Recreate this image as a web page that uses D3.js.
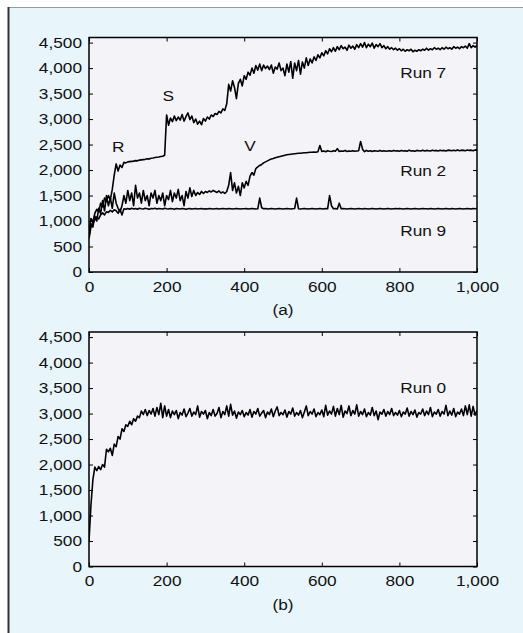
<!DOCTYPE html>
<html>
<head>
<meta charset="utf-8">
<script src="https://cdn.jsdelivr.net/npm/d3@7"></script>
<style>
  body { margin: 0; background: #fff; }
  text { font-family: "Liberation Sans", Arial, sans-serif; fill: #111; }
</style>
</head>
<body>
<div id="chart"></div>
<script>
// samples every 5 iterations, 0..1000
const xStep = 5;

const run7 = [
  780, 1050, 980, 1150, 1230, 1180, 1350, 1280, 1450, 1380, 1500, 1420,
  1620, 1900, 2120, 1980, 2100, 2050, 2150, 2140, 2160, 2165, 2170, 2175, 2185, 2180, 2195, 2200, 2205, 2210,
  2220, 2215, 2230, 2235, 2245, 2250, 2255, 2265, 2270, 2290,
  3080, 2880, 3020, 2950, 3060, 2970, 3040, 2980, 3090, 2960, 3050, 3120, 2990, 3060, 2930, 3000, 2900, 2960, 2890, 3010,
  2960, 3040, 3000, 3080, 3050, 3110, 3090, 3150, 3120, 3200, 3170, 3300, 3680, 3550, 3750, 3620, 3400, 3700, 3780, 3650,
  3850, 3780, 3920, 3860, 4000, 3900, 4050, 3960, 4080, 3950, 4060, 3990, 4040, 3970, 4060, 3900, 4020, 3980, 4100, 3950,
  4000, 3850, 4080, 3920, 4130, 3800, 4100, 3950, 4150, 3880, 4120, 4000, 4200, 4050, 4180, 4100, 4220, 4150, 4260, 4200,
  4300, 4240, 4340, 4280, 4380, 4320, 4400, 4330, 4420, 4360, 4440, 4380, 4410, 4350, 4450, 4390, 4430, 4370, 4460, 4400,
  4480, 4410, 4500, 4400, 4470, 4420, 4490, 4390, 4460, 4420, 4480, 4400, 4440, 4380, 4420, 4370, 4400, 4360, 4390, 4350,
  4380, 4340, 4370, 4330, 4360, 4340, 4370, 4320, 4350, 4330, 4360, 4340, 4370, 4350, 4390, 4350, 4380, 4360, 4400, 4370,
  4390, 4360, 4400, 4370, 4410, 4380, 4400, 4370, 4420, 4390, 4410, 4380, 4420, 4400, 4430, 4390, 4480, 4400, 4440, 4410,
  4450
];

const run2 = [
  700, 950, 880, 1100, 1000, 1250, 1150, 1400, 1200, 1500, 1300, 1450,
  1250, 1550, 1350, 1250, 1180, 1300, 1500, 1350, 1600, 1400, 1550, 1300, 1700, 1450, 1550, 1350, 1600, 1400,
  1500, 1300, 1550, 1450, 1600, 1350, 1500, 1400, 1550, 1300,
  1500, 1420, 1600, 1380, 1550, 1450, 1620, 1400, 1500, 1300, 1580, 1450, 1650, 1480, 1600, 1500, 1560, 1520, 1580, 1540,
  1580, 1560, 1590, 1570, 1600, 1580, 1560, 1590, 1550, 1570, 1540, 1580, 1700, 1950, 1600, 1750, 1550, 1680, 1500, 1750,
  1650, 1780, 1700, 1880, 1950, 1900, 2030, 2060, 2090, 2110, 2140, 2160, 2180, 2200, 2215, 2225, 2240, 2250, 2260, 2270,
  2280, 2290, 2300, 2305, 2310, 2315, 2320, 2325, 2330, 2330, 2335, 2340, 2340, 2345, 2350, 2350, 2355, 2350, 2360, 2480,
  2365, 2375, 2360, 2380, 2370, 2365, 2380, 2370, 2420, 2365, 2375, 2370, 2385, 2365, 2375, 2370, 2380, 2370, 2375, 2380,
  2560, 2410, 2360, 2385, 2370, 2380, 2365, 2380, 2375, 2370, 2385, 2370, 2380, 2370, 2375, 2380, 2370, 2385, 2375, 2380,
  2370, 2385, 2375, 2380, 2370, 2390, 2375, 2380, 2370, 2385, 2380, 2375, 2390, 2375, 2385, 2380, 2375, 2390, 2380, 2385,
  2375, 2390, 2380, 2385, 2375, 2390, 2385, 2380, 2390, 2380, 2395, 2380, 2390, 2385, 2380, 2395, 2385, 2390, 2380, 2395,
  2390
];

const run9 = [
  650, 880, 960, 1020, 1080, 1040, 1120, 1160, 1120, 1180, 1170, 1210, 1180, 1220, 1200, 1150, 1230, 1120, 1240, 1230,
  1245, 1230, 1250, 1235, 1245, 1230, 1250, 1240, 1235, 1250, 1240, 1230, 1245, 1240, 1250, 1235, 1245, 1240, 1235, 1250,
  1240, 1235, 1245, 1240, 1230, 1245, 1240, 1235, 1245, 1240, 1230, 1240, 1245, 1235, 1240, 1245, 1235, 1240, 1245, 1235,
  1240, 1235, 1245, 1240, 1235, 1240, 1245, 1235, 1240, 1245, 1240, 1235, 1245, 1240, 1235, 1240, 1245, 1240, 1235, 1240,
  1240, 1245, 1235, 1240, 1245, 1240, 1235, 1240, 1450, 1260, 1240, 1245, 1235, 1240, 1245, 1240, 1235, 1240, 1245, 1240,
  1235, 1240, 1245, 1240, 1235, 1240, 1245, 1450, 1240, 1235, 1240, 1245, 1240, 1235, 1240, 1245, 1240, 1235, 1240, 1245,
  1240, 1235, 1245, 1240, 1500, 1300, 1240, 1245, 1235, 1350, 1240, 1245, 1240, 1235, 1240, 1245, 1240, 1235, 1240, 1245,
  1240, 1235, 1245, 1240, 1235, 1240, 1245, 1240, 1235, 1240, 1245, 1240, 1235, 1240, 1245, 1240, 1235, 1240, 1245, 1240,
  1245, 1240, 1235, 1240, 1245, 1240, 1235, 1240, 1245, 1240, 1235, 1240, 1245, 1240, 1240, 1235, 1245, 1240, 1235, 1240,
  1245, 1240, 1235, 1240, 1245, 1240, 1235, 1245, 1240, 1235, 1240, 1245, 1240, 1235, 1240, 1245, 1240, 1235, 1245, 1240,
  1245
];

const run0 = [
  500, 1200, 1700, 1950, 1880, 1960, 1900, 2000, 1950, 2300, 2250, 2320, 2180, 2400, 2350, 2550, 2500, 2700, 2650, 2780,
  2750, 2850, 2780, 2900, 2850, 2950, 2920, 3050, 2980, 3080, 2960, 3060, 2990, 3100, 2950, 3120, 2980, 3200, 2920, 3150,
  2950, 3080, 2920, 3050, 2980, 3060, 2900, 3020, 2970, 3090, 2940, 3010, 3100, 2950, 3030, 2980, 3150, 2930, 3040, 2990,
  3060, 2900, 3020, 2960, 3080, 2950, 3000, 3120, 2920, 3040, 2980, 3150, 2950, 3180, 2970, 3050, 2910, 3030, 2980, 3060,
  2940, 3020, 2970, 3080, 2930, 3040, 2990, 3100, 2950, 3010, 3060, 2920, 3030, 2980, 3090, 2940, 3050, 3130, 2960, 3020,
  2980, 3070, 2930, 3040, 2990, 3110, 2950, 3020, 2970, 3060, 2920, 3030, 3150, 2960, 3040, 2990, 3090, 2940, 3020, 2980,
  3070, 2940, 3160, 2970, 3050, 2990, 3140, 2950, 3100, 2980, 3160, 2930, 3050, 3000, 3150, 2960, 3060, 2990, 3170, 2950,
  3040, 2980, 3090, 2940, 3020, 2970, 3120, 2960, 3050, 2880, 3030, 2990, 3080, 2950, 3040, 2980, 3100, 2960, 3020, 2970,
  3060, 2940, 3030, 2990, 3110, 2950, 3040, 2980, 3070, 2930, 3020, 2990, 3090, 2960, 3050, 2980, 3120, 2940, 3030, 2990,
  3080, 2950, 3040, 2990, 3160, 2960, 3050, 2970, 3100, 2940, 3030, 2990, 3090, 2960, 3150, 2980, 3170, 2950, 3140, 2970,
  3060
];

const yTicks = [0, 500, 1000, 1500, 2000, 2500, 3000, 3500, 4000, 4500];
const xTicks = [0, 200, 400, 600, 800, 1000];

const W = 523, H = 633;
const stretch = 1.15; // source lettering is a little wide
const fmt = d3.format(',');

const svg = d3.select('#chart')
  .append('svg')
  .attr('width', W)
  .attr('height', H);

// outer figure box
svg.append('rect')
  .attr('x', 8).attr('y', 7)
  .attr('width', W).attr('height', H)
  .attr('fill', '#e8f5fb');
svg.append('line')
  .attr('x1', 8).attr('x2', W).attr('y1', 7.5).attr('y2', 7.5)
  .attr('stroke', '#9a9a9a').attr('stroke-width', 1);
svg.append('line')
  .attr('x1', 8.5).attr('x2', 8.5).attr('y1', 7).attr('y2', H)
  .attr('stroke', '#333').attr('stroke-width', 2);

const x = d3.scaleLinear().domain([0, 1000]).range([89, 477]);

function wideText(g, px, py, str, anchor) {
  g.append('text')
    .attr('transform', `translate(${px},${py}) scale(${stretch},1)`)
    .attr('text-anchor', anchor)
    .attr('dominant-baseline', 'central')
    .attr('font-size', 15)
    .text(str);
}

function drawPanel(top, id, series, notes, caption) {
  const bottom = top + 234.5;
  const y = d3.scaleLinear().domain([0, 4600]).range([bottom, top]);
  const g = svg.append('g');

  g.append('rect')
    .attr('x', x(0)).attr('y', top)
    .attr('width', x(1000) - x(0)).attr('height', bottom - top)
    .attr('fill', '#f4f3f8');

  g.append('clipPath').attr('id', 'clip-' + id)
    .append('rect')
    .attr('x', x(0)).attr('y', top)
    .attr('width', x(1000) - x(0)).attr('height', bottom - top);

  const line = d3.line()
    .x((d, i) => x(i * xStep))
    .y(d => y(d));

  series.forEach(s => {
    g.append('path')
      .datum(s)
      .attr('clip-path', `url(#clip-${id})`)
      .attr('fill', 'none')
      .attr('stroke', '#000')
      .attr('stroke-width', 1.6)
      .attr('stroke-linejoin', 'round')
      .attr('d', line);
  });

  const left = g.append('g')
    .attr('transform', `translate(${x(0)},0)`)
    .call(d3.axisLeft(y).tickValues(yTicks).tickFormat(fmt).tickSize(-4).tickSizeOuter(0).tickPadding(7));
  left.selectAll('text')
    .attr('x', -7 / stretch)
    .attr('transform', `scale(${stretch},1)`);

  const bottomAxis = g.append('g')
    .attr('transform', `translate(0,${bottom})`)
    .call(d3.axisBottom(x).tickValues(xTicks).tickFormat(fmt).tickSize(-4).tickSizeOuter(0).tickPadding(9));
  bottomAxis.selectAll('text').attr('transform', `scale(${stretch},1)`);

  g.append('g')
    .attr('transform', `translate(${x(1000)},0)`)
    .call(d3.axisRight(y).tickValues(yTicks).tickFormat('').tickSize(-4).tickSizeOuter(0));
  g.append('g')
    .attr('transform', `translate(0,${top})`)
    .call(d3.axisTop(x).tickValues(xTicks).tickFormat('').tickSize(-4).tickSizeOuter(0));

  g.selectAll('.domain').remove();
  g.selectAll('.tick line').attr('stroke', '#000').attr('stroke-width', 1);
  g.selectAll('.tick text')
    .attr('font-size', 15)
    .attr('font-family', '"Liberation Sans", Arial, sans-serif')
    .attr('fill', '#111');

  g.append('rect')
    .attr('x', x(0)).attr('y', top)
    .attr('width', x(1000) - x(0)).attr('height', bottom - top)
    .attr('fill', 'none')
    .attr('stroke', '#000')
    .attr('stroke-width', 1.5);

  notes.forEach(n => wideText(g, x(n.at), y(n.level), n.text, n.anchor));
  wideText(g, (x(0) + x(1000)) / 2, bottom + 37.5, caption, 'middle');
}

drawPanel(37.5, 'a', [run9, run2, run7], [
  { text: 'R', at: 75, level: 2458, anchor: 'middle' },
  { text: 'S', at: 204, level: 3459, anchor: 'middle' },
  { text: 'V', at: 415, level: 2478, anchor: 'middle' },
  { text: 'Run 7', at: 802, level: 3910, anchor: 'start' },
  { text: 'Run 2', at: 802, level: 2001, anchor: 'start' },
  { text: 'Run 9', at: 802, level: 824, anchor: 'start' }
], '(a)');

drawPanel(332, 'b', [run0], [
  { text: 'Run 0', at: 802, level: 3508, anchor: 'start' }
], '(b)');
</script>
</body>
</html>
